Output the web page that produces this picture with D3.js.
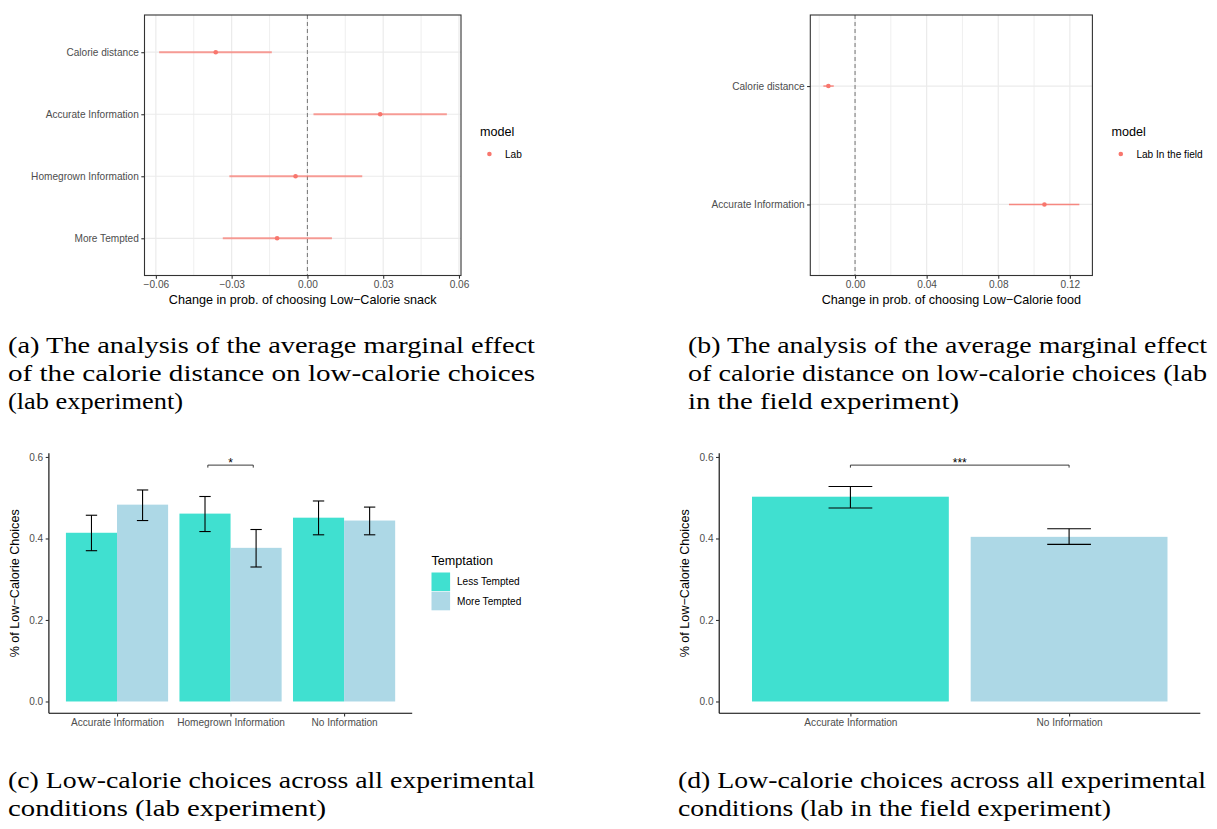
<!DOCTYPE html>
<html>
<head>
<meta charset="utf-8">
<script src="https://cdn.jsdelivr.net/npm/d3@7"></script>
<style>
  body { margin: 0; background: #fff; }
  svg { display: block; }
</style>
</head>
<body>
<script>
const width = 1217; // page width
const height = 829; // page height

// (a) lab experiment, marginal effects
const labTerms = ["Calorie distance", "Accurate Information", "Homegrown Information", "More Tempted"];
const labEstimate = [-0.0363, 0.0288, -0.0047, -0.0120];
const labLower = [-0.0587, 0.0024, -0.0309, -0.0335];
const labUpper = [-0.0141, 0.0552, 0.0217, 0.0097];
const labXTicks = [-0.06, -0.03, 0, 0.03, 0.06];

// (b) lab in the field, marginal effects
const fieldTerms = ["Calorie distance", "Accurate Information"];
const fieldEstimate = [-0.0149, 0.1058];
const fieldLower = [-0.0177, 0.0860];
const fieldUpper = [-0.0119, 0.1253];
const fieldXTicks = [0, 0.04, 0.08, 0.12];

// (c) lab experiment, share of low-calorie choices
const labConditions = ["Accurate Information", "Homegrown Information", "No Information"];
const temptationLevels = ["Less Tempted", "More Tempted"];
const labLess = [0.414, 0.461, 0.451];
const labLessLow = [0.370, 0.417, 0.409];
const labLessHigh = [0.457, 0.503, 0.492];
const labMore = [0.483, 0.377, 0.444];
const labMoreLow = [0.444, 0.330, 0.409];
const labMoreHigh = [0.519, 0.422, 0.477];

// (d) lab in the field, share of low-calorie choices
const fieldConditions = ["Accurate Information", "No Information"];
const fieldShare = [0.5025, 0.404];
const fieldShareLow = [0.4748, 0.3855];
const fieldShareHigh = [0.5277, 0.424];

const shareTicks = [0, 0.2, 0.4, 0.6];

const sans = "'Liberation Sans', Arial, Helvetica, sans-serif";
const serif = "'Liberation Serif', 'Times New Roman', 'DejaVu Serif', serif";
const pointColor = "#F8766D";
const colorMap = { "Less Tempted": "#40E0D0", "More Tempted": "#ADD8E6" };

const svg = d3.select("body").append("svg")
    .attr("width", width)
    .attr("height", height);

svg.append("rect").attr("width", width).attr("height", height).attr("fill", "#fff");

// coefficient plot in theme_bw style
function drawCoef(o) {
    const g = svg.append("g");
    const x = d3.scaleLinear().domain(o.xDomain).range([o.left, o.right]);
    const y = d3.scalePoint().domain(o.terms).range([o.top, o.bottom]).padding(0.6);

    // minor + major vertical grid
    const minor = o.xTicks.slice(0, -1).map((t, i) => (t + o.xTicks[i + 1]) / 2);
    const step = o.xTicks[1] - o.xTicks[0];
    if (o.xTicks[0] - step / 2 > o.xDomain[0]) minor.unshift(o.xTicks[0] - step / 2);
    if (o.xTicks[o.xTicks.length - 1] + step / 2 < o.xDomain[1]) minor.push(o.xTicks[o.xTicks.length - 1] + step / 2);

    g.selectAll(".minor").data(minor).enter().append("line")
        .attr("x1", d => x(d)).attr("x2", d => x(d))
        .attr("y1", o.top).attr("y2", o.bottom)
        .attr("stroke", "#EBEBEB").attr("stroke-width", 0.8);
    g.selectAll(".major").data(o.xTicks).enter().append("line")
        .attr("x1", d => x(d)).attr("x2", d => x(d))
        .attr("y1", o.top).attr("y2", o.bottom)
        .attr("stroke", "#EBEBEB").attr("stroke-width", 1.2);
    g.selectAll(".hgrid").data(o.terms).enter().append("line")
        .attr("x1", o.left).attr("x2", o.right)
        .attr("y1", d => y(d)).attr("y2", d => y(d))
        .attr("stroke", "#EBEBEB").attr("stroke-width", 1.2);

    // zero line
    g.append("line")
        .attr("x1", x(0)).attr("x2", x(0))
        .attr("y1", o.top).attr("y2", o.bottom)
        .attr("stroke", "#7F7F7F").attr("stroke-width", 1.1)
        .attr("stroke-dasharray", "4,3");

    // confidence intervals and points
    g.selectAll(".ci").data(o.terms).enter().append("line")
        .attr("x1", (d, i) => x(o.lower[i])).attr("x2", (d, i) => x(o.upper[i]))
        .attr("y1", d => y(d)).attr("y2", d => y(d))
        .attr("stroke", pointColor).attr("stroke-width", o.ciWidth)
        .attr("stroke-opacity", o.ciOpacity);
    g.selectAll(".pt").data(o.terms).enter().append("circle")
        .attr("cx", (d, i) => x(o.estimate[i])).attr("cy", d => y(d))
        .attr("r", 2.3).attr("fill", pointColor);

    // border
    g.append("rect")
        .attr("x", o.left).attr("y", o.top)
        .attr("width", o.right - o.left).attr("height", o.bottom - o.top)
        .attr("fill", "none").attr("stroke", "#333333").attr("stroke-width", 1.1);

    // axes
    const xAxis = g.append("g").attr("transform", `translate(0,${o.bottom})`)
        .call(d3.axisBottom(x).tickValues(o.xTicks).tickFormat(d3.format(".2f")).tickSize(3.2).tickPadding(2.5));
    const yAxis = g.append("g").attr("transform", `translate(${o.left},0)`)
        .call(d3.axisLeft(y).tickSize(3.2).tickPadding(2.5));
    [xAxis, yAxis].forEach(a => {
        a.select(".domain").remove();
        a.selectAll(".tick line").attr("stroke", "#333333").attr("stroke-width", 1.1);
        a.selectAll(".tick text").attr("fill", "#4D4D4D")
            .attr("font-family", sans).attr("font-size", "10.1px");
    });

    g.append("text")
        .attr("x", (o.left + o.right) / 2).attr("y", o.bottom + 28)
        .attr("text-anchor", "middle")
        .attr("font-family", sans).attr("font-size", "12.6px").attr("fill", "#000")
        .text(o.title);

    // legend
    const lx = o.right + 19;
    g.append("text").attr("x", lx).attr("y", 136)
        .attr("font-family", sans).attr("font-size", "12.6px").text("model");
    g.append("circle").attr("cx", lx + 9.4).attr("cy", 154).attr("r", 2.3).attr("fill", pointColor);
    g.append("text").attr("x", lx + 25).attr("y", 154).attr("dy", "0.35em")
        .attr("font-family", sans).attr("font-size", "10.1px").text(o.legendLabel);
}

drawCoef({
    terms: labTerms, estimate: labEstimate, lower: labLower, upper: labUpper,
    xDomain: [-0.0645, 0.0608], xTicks: labXTicks,
    left: 144.5, right: 461, top: 15, bottom: 275.5,
    ciWidth: 2, ciOpacity: 0.7,
    title: "Change in prob. of choosing Low\u2212Calorie snack", legendLabel: "Lab"
});

drawCoef({
    terms: fieldTerms, estimate: fieldEstimate, lower: fieldLower, upper: fieldUpper,
    xDomain: [-0.025, 0.1326], xTicks: fieldXTicks,
    left: 810.3, right: 1092.4, top: 15, bottom: 275.5,
    ciWidth: 1.5, ciOpacity: 0.85,
    title: "Change in prob. of choosing Low\u2212Calorie food", legendLabel: "Lab In the field"
});

// bar charts in theme_classic style
function drawBars(o) {
    const g = svg.append("g");
    const x = d3.scalePoint().domain(o.categories).range([o.left, o.right]).padding(0.6);
    const y = d3.scaleLinear().domain([-0.029, 0.609]).range([o.bottom, o.top]);
    const band = x.step() * 0.9;
    const nGroups = o.series.length;
    const w = band / nGroups;

    o.series.forEach((s, si) => {
        const off = -band / 2 + si * w;
        g.selectAll(null).data(o.categories).enter().append("rect")
            .attr("x", d => x(d) + off).attr("width", w)
            .attr("y", (d, i) => y(s.values[i]))
            .attr("height", (d, i) => y(0) - y(s.values[i]))
            .attr("fill", (d, i) => Array.isArray(s.color) ? s.color[i] : s.color);
    });
    o.series.forEach((s, si) => {
        const cx = d => x(d) - band / 2 + (si + 0.5) * w;
        const cap = x.step() * o.capWidth / 2;
        const eb = g.selectAll(null).data(o.categories).enter().append("g");
        eb.append("line").attr("x1", cx).attr("x2", cx)
            .attr("y1", (d, i) => y(s.low[i])).attr("y2", (d, i) => y(s.high[i]));
        eb.append("line").attr("x1", d => cx(d) - cap).attr("x2", d => cx(d) + cap)
            .attr("y1", (d, i) => y(s.low[i])).attr("y2", (d, i) => y(s.low[i]));
        eb.append("line").attr("x1", d => cx(d) - cap).attr("x2", d => cx(d) + cap)
            .attr("y1", (d, i) => y(s.high[i])).attr("y2", (d, i) => y(s.high[i]));
        eb.selectAll("line").attr("stroke", "#000").attr("stroke-width", 1.1);
    });

    // significance bracket
    const b = o.bracket;
    const bx1 = x(b.category[0]) + b.offset[0] * x.step();
    const bx2 = x(b.category[1]) + b.offset[1] * x.step();
    g.append("path")
        .attr("d", `M${bx1},${y(b.y) + 2.5}V${y(b.y)}H${bx2}V${y(b.y) + 2.5}`)
        .attr("fill", "none").attr("stroke", "#222").attr("stroke-width", 0.9);
    g.append("text").attr("x", (bx1 + bx2) / 2).attr("y", y(b.y) + 2)
        .attr("text-anchor", "middle")
        .attr("font-family", sans).attr("font-size", "12px").text(b.label);

    const xAxis = g.append("g").attr("transform", `translate(0,${o.bottom})`)
        .call(d3.axisBottom(x).tickSize(3.2).tickPadding(2.5));
    const yAxis = g.append("g").attr("transform", `translate(${o.left},0)`)
        .call(d3.axisLeft(y).tickValues(shareTicks).tickFormat(d3.format(".1f")).tickSize(3.2).tickPadding(2.5));
    [xAxis, yAxis].forEach(a => {
        a.select(".domain").attr("stroke", "#000").attr("stroke-width", 1.1);
        a.selectAll(".tick line").attr("stroke", "#333333").attr("stroke-width", 1.1);
        a.selectAll(".tick text").attr("fill", "#4D4D4D")
            .attr("font-family", sans).attr("font-size", "10.1px");
    });
    xAxis.select(".domain").attr("d", `M${o.left},0H${o.right}`);
    yAxis.select(".domain").attr("d", `M0,${o.top}V${o.bottom}`);

    g.append("text")
        .attr("transform", `translate(${o.left - 30},${(o.top + o.bottom) / 2}) rotate(-90)`)
        .attr("text-anchor", "middle")
        .attr("font-family", sans).attr("font-size", "12.6px").attr("fill", "#000")
        .text("% of Low\u2212Calorie Choices");

    if (o.legend) {
        const lx = o.right + 19.3;
        g.append("text").attr("x", lx).attr("y", 565)
            .attr("font-family", sans).attr("font-size", "12.6px").text("Temptation");
        const items = g.selectAll(null).data(temptationLevels).enter().append("g")
            .attr("transform", (d, i) => `translate(${lx},${572.5 + i * 19.2})`);
        items.append("rect").attr("width", 18.6).attr("height", 18.6)
            .attr("fill", d => colorMap[d]);
        items.append("text").attr("x", 25.5).attr("y", 9.3).attr("dy", "0.35em")
            .attr("font-family", sans).attr("font-size", "10.1px").text(d => d);
    }
}

drawBars({
    categories: labConditions,
    series: [
        { values: labLess, low: labLessLow, high: labLessHigh, color: colorMap["Less Tempted"] },
        { values: labMore, low: labMoreLow, high: labMoreHigh, color: colorMap["More Tempted"] }
    ],
    capWidth: 0.1,
    left: 48.9, right: 412.2, top: 453.3, bottom: 713.3,
    bracket: { category: ["Homegrown Information", "Homegrown Information"], offset: [-0.2, 0.2], y: 0.58, label: "*" },
    legend: true
});

// panel d colours its two bars by condition
drawBars({
    categories: fieldConditions,
    series: [
        { values: fieldShare, low: fieldShareLow, high: fieldShareHigh,
          color: [colorMap["Less Tempted"], colorMap["More Tempted"]] }
    ],
    capWidth: 0.2,
    left: 719.2, right: 1200.3, top: 453.3, bottom: 713.3,
    bracket: { category: ["Accurate Information", "No Information"], offset: [0, 0], y: 0.58, label: "***" },
    legend: false
});

// sub-captions; font size picked so the natural width is close to the target
function caption(x, y0, lines, widths) {
    const probe = svg.append("text").attr("font-family", serif).attr("font-size", "100px").text(lines[0]);
    const natural = probe.node().getComputedTextLength();
    probe.remove();
    const size = Math.min(23, 100 * widths[0] / natural);
    lines.forEach((t, i) => {
        svg.append("text")
            .attr("x", x).attr("y", y0 + i * 28)
            .attr("font-family", serif).attr("font-size", size + "px").attr("fill", "#000")
            .attr("textLength", widths[i]).attr("lengthAdjust", "spacingAndGlyphs")
            .text(t);
    });
}

caption(8, 353, [
    "(a) The analysis of the average marginal effect",
    "of the calorie distance on low-calorie choices",
    "(lab experiment)"
], [527, 527, 175]);

caption(688, 353, [
    "(b) The analysis of the average marginal effect",
    "of calorie distance on low-calorie choices (lab",
    "in the field experiment)"
], [519, 519, 271]);

caption(8, 788, [
    "(c) Low-calorie choices across all experimental",
    "conditions (lab experiment)"
], [527, 318]);

caption(678, 788, [
    "(d) Low-calorie choices across all experimental",
    "conditions (lab in the field experiment)"
], [528, 433]);
</script>
</body>
</html>
